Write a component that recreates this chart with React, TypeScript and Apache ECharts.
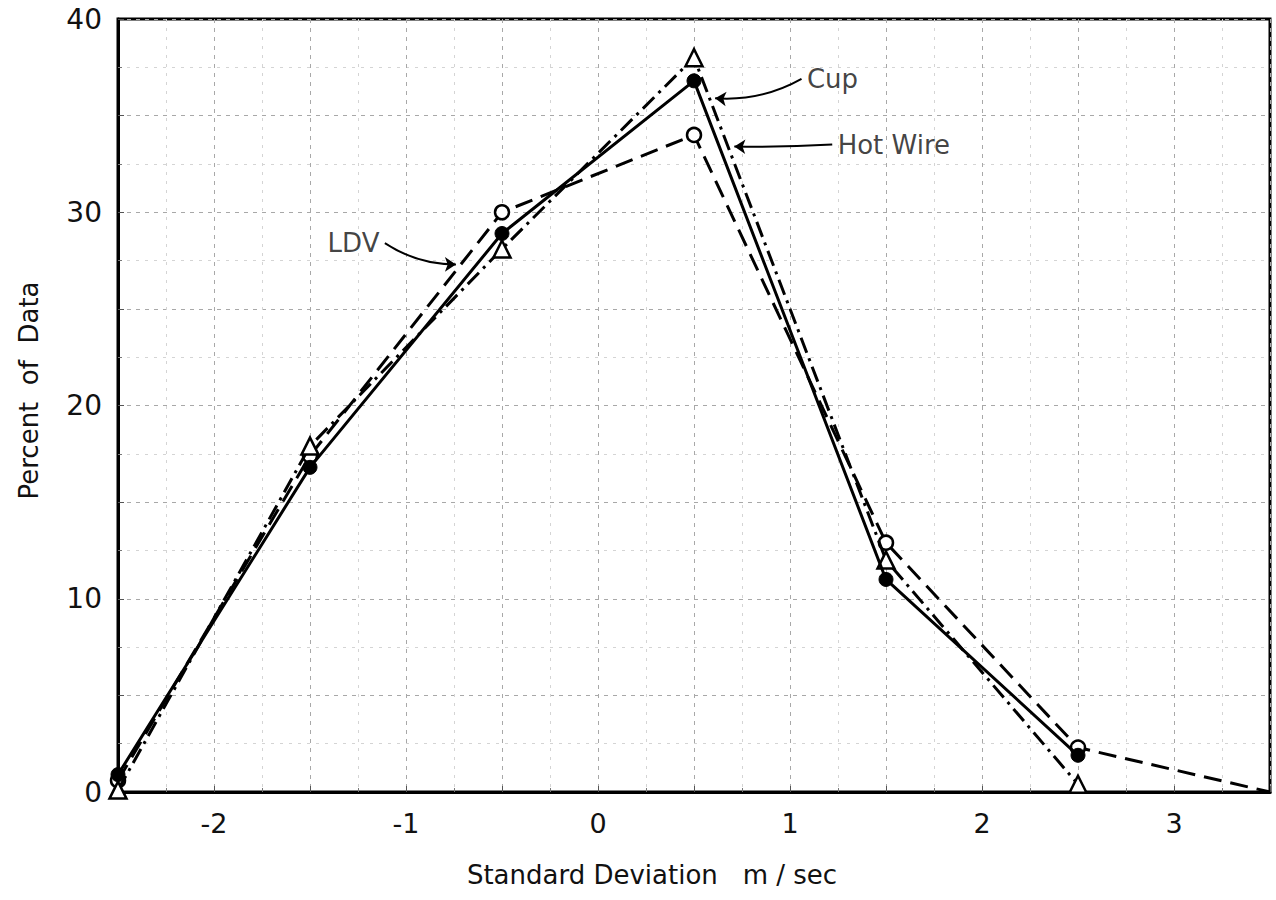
import React, { useEffect, useRef } from "react";
import * as echarts from "echarts";

const xPoints = [-2.5, -1.5, -0.5, 0.5, 1.5, 2.5];
const hotWire = [0.9, 16.8, 28.9, 36.8, 11.0, 1.9];
const cup = [0.1, 17.9, 28.1, 38.0, 12.0, 0.4];
const ldvX = [-2.5, -1.5, -0.5, 0.5, 1.5, 2.5, 3.5];
const ldv = [0.6, 17.4, 30.0, 34.0, 12.9, 2.3, 0];
const ldvMarked = [true, true, true, true, true, true, false];

const annotations = [
  { name: "Cup", text: [1.07, 36.9], from: [1.06, 36.9], to: [0.61, 35.9], curv: 0.15, pos: "right" },
  { name: "Hot Wire", text: [1.23, 33.5], from: [1.22, 33.5], to: [0.71, 33.4], curv: 0.02, pos: "right" },
  { name: "LDV", text: [-1.12, 28.4], from: [-1.11, 28.4], to: [-0.74, 27.3], curv: -0.15, pos: "left" },
];

const FONT = "DejaVu Sans";

export default function App() {
  const ref = useRef<HTMLDivElement>(null);
  useEffect(() => {
    document.body.style.margin = "0";
    const chart = echarts.init(ref.current!, null, { renderer: "svg" });
    const toPairs = (xs: number[], ys: number[]) => xs.map((x, i) => [x, ys[i]]);
    chart.setOption({
      animation: false,
      backgroundColor: "#fff",
      grid: {
        left: 118, right: 6, top: 19, bottom: 108,
        containLabel: false, outerBoundsMode: "none",
        show: true, borderColor: "#000", borderWidth: 3, backgroundColor: "transparent",
      },
      xAxis: {
        type: "value",
        min: -2.5,
        max: 3.5,
        interval: 0.5,
        name: "Standard Deviation   m / sec",
        nameLocation: "middle",
        nameGap: 70,
        nameTextStyle: { fontFamily: FONT, fontSize: 26, color: "#111", padding: [0, 84, 0, 0] },
        axisLine: { lineStyle: { color: "#000", width: 3 } },
        axisTick: { show: true, inside: true, length: 6, lineStyle: { color: "#555", width: 1 } },
        minorTick: { show: true, splitNumber: 2, length: 4, lineStyle: { color: "#777" } },
        axisLabel: {
          fontFamily: FONT,
          fontSize: 27,
          color: "#111",
          margin: 18,
          formatter: (v: number) => (Number.isInteger(v) && v > -2.5 && v < 3.5 ? String(v) : ""),
        },
        splitLine: { show: true, lineStyle: { color: "#a8a8a8", type: [4, 5], width: 1 } },
        minorSplitLine: { show: true, lineStyle: { color: "#d4d4d4", type: [3, 6], width: 1 } },
      },
      yAxis: {
        type: "value",
        min: 0,
        max: 40,
        interval: 5,
        name: "Percent  of  Data",
        nameLocation: "middle",
        nameGap: 76,
        nameTextStyle: { fontFamily: FONT, fontSize: 26, color: "#111", padding: [0, 0, 0, 30] },
        axisLine: { show: true, onZero: false, lineStyle: { color: "#000", width: 3 } },
        axisTick: { show: true, inside: true, length: 6, lineStyle: { color: "#555", width: 1 } },
        minorTick: { show: true, splitNumber: 2, length: 4, lineStyle: { color: "#777" } },
        axisLabel: {
          fontFamily: FONT,
          fontSize: 28,
          color: "#111",
          margin: 16,
          formatter: (v: number) => (v % 10 === 0 ? String(v) : ""),
        },
        splitLine: { show: true, lineStyle: { color: "#a8a8a8", type: [4, 5], width: 1 } },
        minorSplitLine: { show: true, lineStyle: { color: "#d4d4d4", type: [3, 6], width: 1 } },
      },
      series: [
        {
          name: "LDV",
          type: "line",
          data: ldvX.map((x, i) => ({ value: [x, ldv[i]], symbol: ldvMarked[i] ? "circle" : "none" })),
          lineStyle: { color: "#000", width: 3, type: [18, 9] },
          symbol: "circle",
          symbolSize: 14,
          itemStyle: { color: "#fff", borderColor: "#000", borderWidth: 2.5 },
          z: 3,
        },
        {
          name: "Cup",
          type: "line",
          data: toPairs(xPoints, cup),
          lineStyle: { color: "#000", width: 3, type: [16, 6, 3, 6] },
          symbol: "triangle",
          symbolSize: 17,
          itemStyle: { color: "#fff", borderColor: "#000", borderWidth: 2.5 },
          z: 4,
        },
        {
          name: "Hot Wire",
          type: "line",
          data: toPairs(xPoints, hotWire),
          lineStyle: { color: "#000", width: 3, type: "solid" },
          symbol: "circle",
          symbolSize: 14,
          itemStyle: { color: "#000", borderColor: "#000", borderWidth: 1 },
          z: 5,
        },
        {
          name: "arrows",
          type: "lines",
          coordinateSystem: "cartesian2d",
          symbol: ["none", "arrow"],
          symbolSize: 11,
          lineStyle: { color: "#000", width: 2, opacity: 1 },
          data: annotations.map((a) => ({ coords: [a.from, a.to], lineStyle: { curveness: a.curv } })),
          z: 6,
        },
        {
          name: "labels",
          type: "scatter",
          symbolSize: 1,
          itemStyle: { color: "rgba(0,0,0,0)" },
          data: annotations.map((a) => ({
            name: a.name,
            value: a.text,
            label: { show: true, position: a.pos, distance: 3, formatter: "{b}", fontFamily: FONT, fontSize: 26, color: "#111" },
          })),
          z: 7,
        },
      ],
    });
    return () => chart.dispose();
  }, []);
  return <div ref={ref} style={{ width: 1276, height: 900 }} />;
}
